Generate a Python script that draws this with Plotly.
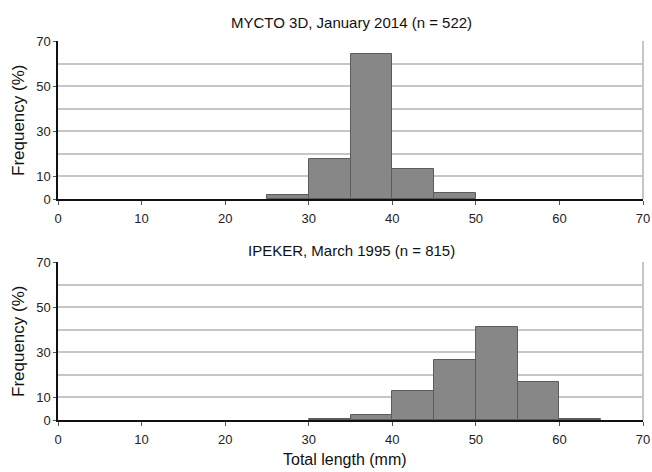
import plotly.graph_objects as go
from plotly.subplots import make_subplots

# Data
bin_width = 5
top_title = "MYCTO 3D, January 2014 (n = 522)"
top_bins = [25, 30, 35, 40, 45]
top_freq = [1.6, 17.9, 64.3, 13.5, 2.5]

bottom_title = "IPEKER, March 1995 (n = 815)"
bottom_bins = [30, 35, 40, 45, 50, 55, 60]
bottom_freq = [0.3, 2.1, 12.9, 26.8, 41.2, 16.8, 0.4]

x_ticks = [0, 10, 20, 30, 40, 50, 60, 70]
y_ticks = [0, 10, 30, 50, 70]
y_label = "Frequency (%)"
x_label = "Total length (mm)"

FONT = "Liberation Sans, Arial, sans-serif"
BAR_FILL = "#878787"
BAR_LINE = "#5c5c5c"
GRID = "#c6c6c6"

W, H = 652, 472
ML, MR, MT, MB = 58, 9, 41, 52
PH = H - MT - MB

def py(p):
    return (H - MB - p) / PH

def px(p):
    return (p - ML) / (W - ML - MR)

fig = make_subplots(rows=2, cols=1, vertical_spacing=(262 - 199) / PH)

for r, (bins, freq) in enumerate([(top_bins, top_freq), (bottom_bins, bottom_freq)], start=1):
    fig.add_trace(go.Bar(x=bins, y=freq, width=bin_width, offset=0,
                         marker=dict(color=BAR_FILL, line=dict(color=BAR_LINE, width=1)),
                         showlegend=False, hoverinfo="skip"), row=r, col=1)
    fig.update_xaxes(range=[0, 70], tickvals=x_ticks, showgrid=False, zeroline=False,
                     showline=True, linecolor="#111", linewidth=1.5, automargin=False,
                     ticks="outside", ticklen=4, tickcolor="#555", ticklabelstandoff=3,
                     tickfont=dict(size=13, color="#222", family=FONT), row=r, col=1)
    fig.update_yaxes(range=[0, 70], tickvals=y_ticks, showgrid=True, gridcolor=GRID, gridwidth=2,
                     minor=dict(dtick=10, showgrid=True, gridcolor=GRID, gridwidth=2),
                     zeroline=False, showline=True, linecolor="#111", linewidth=1.5, automargin=False,
                     ticks="outside", ticklen=3, tickcolor="#555",
                     tickfont=dict(size=13, color="#222", family=FONT), row=r, col=1)
    # right border
    xr = "x domain" if r == 1 else "x2 domain"
    yr = "y domain" if r == 1 else "y2 domain"
    fig.add_shape(type="line", xref=xr, yref=yr, x0=1, x1=1, y0=0, y1=1,
                  line=dict(color=GRID, width=2), layer="below")

annos = [
    dict(text=top_title, x=px(351), y=py(22), font=dict(size=15)),
    dict(text=bottom_title, x=px(351), y=py(250), font=dict(size=15)),
    dict(text=x_label, x=px(345), y=py(459), font=dict(size=16)),
    dict(text=y_label, x=px(18), y=py(120), textangle=-90, font=dict(size=17)),
    dict(text=y_label, x=px(18), y=py(341), textangle=-90, font=dict(size=17)),
]
for a in annos:
    a["font"].update(family=FONT, color="#111")
    fig.add_annotation(xref="paper", yref="paper", xanchor="center", yanchor="middle",
                       showarrow=False, **a)

fig.update_layout(width=W, height=H, margin=dict(l=ML, r=MR, t=MT, b=MB, autoexpand=False),
                  plot_bgcolor="white", paper_bgcolor="white", bargap=0,
                  font=dict(family=FONT))

fig.write_html("out.html", config={"displayModeBar": False},
               post_script="document.body.style.margin='0';document.body.style.overflow='hidden';")
